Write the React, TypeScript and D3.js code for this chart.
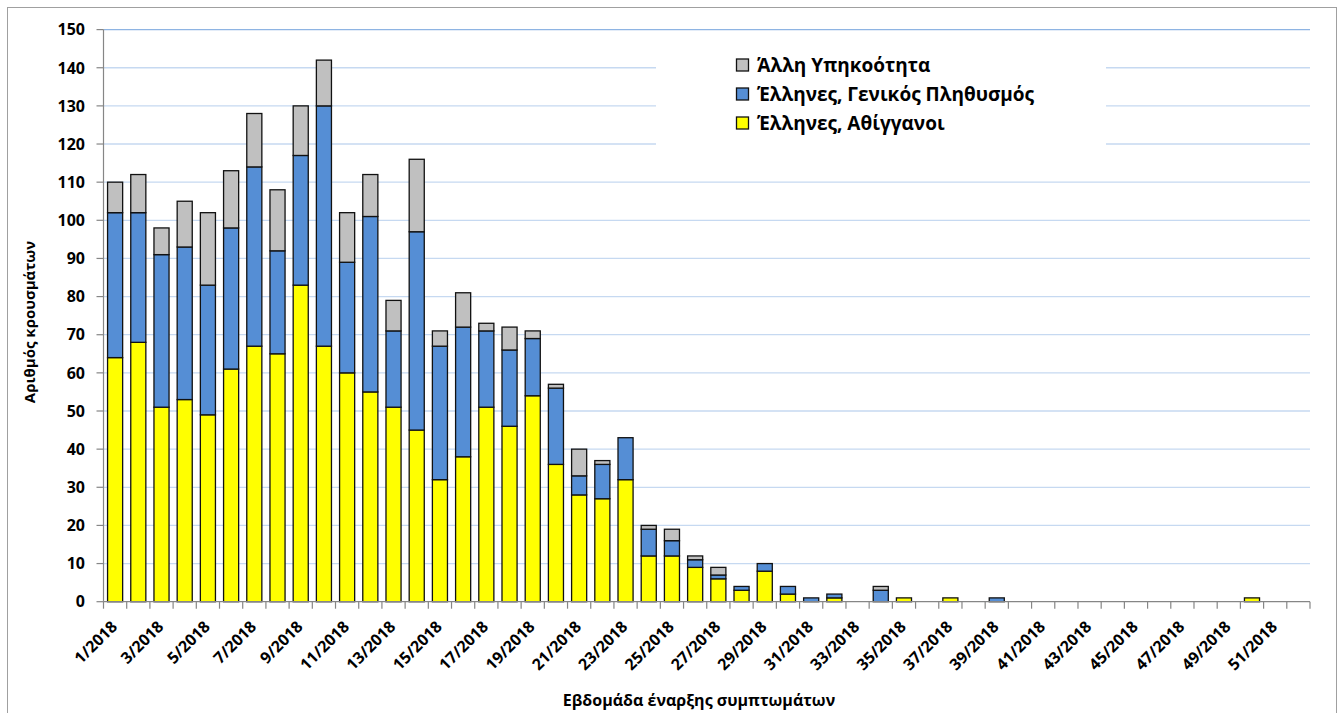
import React from "react";
import * as d3 from "d3";

// Week numbers (categories)
const weekNumbers = [
  1, 2, 3, 4, 5, 6, 7, 8, 9, 10, 11, 12, 13, 14, 15, 16, 17, 18, 19, 20, 21, 22, 23, 24, 25, 26,
  27, 28, 29, 30, 31, 32, 33, 34, 35, 36, 37, 38, 39, 40, 41, 42, 43, 44, 45, 46, 47, 48, 49, 50, 51, 52,
];

// Έλληνες, Αθίγγανοι (yellow)
const romaValues = [
  64, 68, 51, 53, 49, 61, 67, 65, 83, 67, 60, 55, 51, 45, 32, 38, 51, 46, 54, 36, 28, 27, 32, 12, 12, 9,
  6, 3, 8, 2, 0, 1, 0, 0, 1, 0, 1, 0, 0, 0, 0, 0, 0, 0, 0, 0, 0, 0, 0, 1, 0, 0,
];
// Έλληνες, Γενικός Πληθυσμός (blue)
const generalValues = [
  38, 34, 40, 40, 34, 37, 47, 27, 34, 63, 29, 46, 20, 52, 35, 34, 20, 20, 15, 20, 5, 9, 11, 7, 4, 2,
  1, 1, 2, 2, 1, 1, 0, 3, 0, 0, 0, 0, 1, 0, 0, 0, 0, 0, 0, 0, 0, 0, 0, 0, 0, 0,
];
// Άλλη Υπηκοότητα (grey)
const otherValues = [
  8, 10, 7, 12, 19, 15, 14, 16, 13, 12, 13, 11, 8, 19, 4, 9, 2, 6, 2, 1, 7, 1, 0, 1, 3, 1,
  2, 0, 0, 0, 0, 0, 0, 1, 0, 0, 0, 0, 0, 0, 0, 0, 0, 0, 0, 0, 0, 0, 0, 0, 0, 0,
];

const yTicks = [0, 10, 20, 30, 40, 50, 60, 70, 80, 90, 100, 110, 120, 130, 140, 150];

const seriesKeys = ["roma", "general", "other"];
const seriesColors: Record<string, string> = {
  roma: "#FFFF00",
  general: "#558ED5",
  other: "#C0C0C0",
};
const legendItems = [
  { key: "other", label: "Άλλη Υπηκοότητα" },
  { key: "general", label: "Έλληνες, Γενικός Πληθυσμός" },
  { key: "roma", label: "Έλληνες, Αθίγγανοι" },
];

const yTitle = "Αριθμός κρουσμάτων";
const xTitle = "Εβδομάδα έναρξης συμπτωμάτων";

const FONT = "'Open Sans', 'Noto Sans', 'DejaVu Sans', sans-serif";

export default function App() {
  const W = 1341;
  const H = 713;
  const left = 103.5;
  const right = 1310;
  const top = 29.6;
  const bottom = 601.7;

  const rows = weekNumbers.map((w, i) => ({
    week: String(w),
    roma: romaValues[i],
    general: generalValues[i],
    other: otherValues[i],
  }));

  const x = d3
    .scaleBand<string>()
    .domain(rows.map((r) => r.week))
    .range([left, right])
    .paddingInner(0.35)
    .paddingOuter(0.175);
  const step = x.step();
  const y = d3.scaleLinear().domain([0, 150]).range([bottom, top]);

  const stacked = d3.stack<any>().keys(seriesKeys)(rows);

  const legendBox = { x: 656, y: 42, w: 450, h: 118 };

  return (
    <svg
      width={W}
      height={H}
      style={{ position: "absolute", left: 0, top: 0, background: "#fff" }}
      fontFamily={FONT}
    >
      <rect x={0} y={0} width={W} height={H} fill="#fff" />
      {/* outer chart border */}
      <rect x={7.5} y={7.5} width={1329} height={720} fill="none" stroke="#A0A0A0" strokeWidth={1} />

      {/* gridlines */}
      {yTicks
        .filter((t) => t > 0)
        .map((t) => (
          <line
            key={"g" + t}
            x1={left}
            x2={right}
            y1={y(t)}
            y2={y(t)}
            stroke={t === 150 ? "#8EB4E3" : "#C6D9F1"}
            strokeWidth={1.3}
          />
        ))}

      {/* legend background */}
      <rect x={legendBox.x} y={legendBox.y} width={legendBox.w} height={legendBox.h} fill="#fff" />

      {/* bars */}
      {stacked.map((layer) => (
        <g key={layer.key} fill={seriesColors[layer.key]}>
          {layer.map((d, i) => {
            const h = y(d[0]) - y(d[1]);
            if (h <= 0) return null;
            return (
              <rect
                key={i}
                x={x(rows[i].week)}
                y={y(d[1])}
                width={x.bandwidth()}
                height={h}
                stroke="#111"
                strokeWidth={1.3}
              />
            );
          })}
        </g>
      ))}

      {/* y axis */}
      <line x1={left} x2={left} y1={top} y2={bottom} stroke="#868686" strokeWidth={1.2} />
      {yTicks.map((t) => (
        <g key={"yt" + t}>
          <line x1={left - 7} x2={left} y1={y(t)} y2={y(t)} stroke="#868686" strokeWidth={1.2} />
          <text
            x={85}
            y={y(t)}
            dy="0.36em"
            textAnchor="end"
            fontSize={16}
            fontWeight="bold"
            fill="#000"
          >
            {t}
          </text>
        </g>
      ))}

      {/* x axis */}
      <line x1={left} x2={right} y1={bottom} y2={bottom} stroke="#868686" strokeWidth={1.2} />
      {weekNumbers.map((w, i) => (
        <line
          key={"xt" + w}
          x1={left + step * (i + 1)}
          x2={left + step * (i + 1)}
          y1={bottom}
          y2={bottom + 7}
          stroke="#868686"
          strokeWidth={1.2}
        />
      ))}
      <line x1={left} x2={left} y1={bottom} y2={bottom + 7} stroke="#868686" strokeWidth={1.2} />
      {rows.map((r, i) =>
        i % 2 === 0 ? (
          <text
            key={"xl" + r.week}
            transform={`translate(${(x(r.week) as number) + x.bandwidth() / 2 + 3},${bottom + 26}) rotate(-45)`}
            textAnchor="end"
            fontSize={16}
            fontWeight="bold"
            fill="#000"
          >
            {r.week + "/2018"}
          </text>
        ) : null
      )}

      {/* axis titles */}
      <text
        transform={`translate(35,322) rotate(-90)`}
        textAnchor="middle"
        fontSize={15}
        fontWeight="bold"
        fill="#000"
      >
        {yTitle}
      </text>
      <text x={699} y={706} textAnchor="middle" fontSize={16} fontWeight="bold" fill="#000">
        {xTitle}
      </text>

      {/* legend */}
      {legendItems.map((it, i) => (
        <g key={it.key} transform={`translate(736,${65 + i * 29})`}>
          <rect x={0.5} y={-6} width={12} height={12} fill={seriesColors[it.key]} stroke="#111" strokeWidth={1.3} />
          <text x={21} y={0} dy="0.36em" fontSize={19} fontWeight="bold" fill="#000">
            {it.label}
          </text>
        </g>
      ))}
    </svg>
  );
}
